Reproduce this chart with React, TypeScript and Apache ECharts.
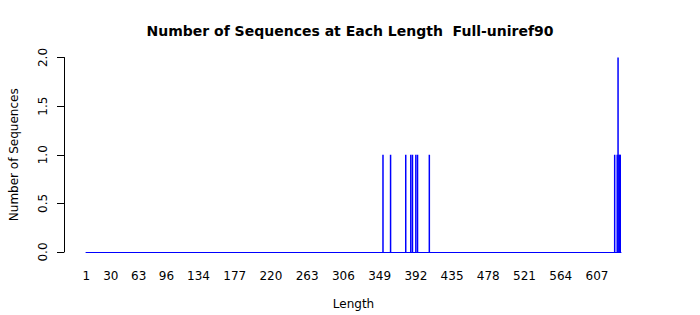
import React, { useEffect, useRef } from "react";
import * as echarts from "echarts";

// Every sequence length on the axis (1 .. 635)
const maxLength = 635;
const lengthCategories: string[] = Array.from({ length: maxLength }, (_, i) => String(i + 1));

// Lengths that have at least one sequence, and their counts (others are 0)
const barLengths = [353, 362, 380, 386, 388, 392, 394, 408, 628, 631, 632, 633, 634, 635];
const barCounts = [1, 1, 1, 1, 1, 1, 1, 1, 1, 1, 2, 1, 1, 1];

// Tick labels shown on the x axis
const xTickLabels = ["1", "30", "63", "96", "134", "177", "220", "263", "306", "349", "392", "435", "478", "521", "564", "607"];
const yTicks = [0, 0.5, 1, 1.5, 2];

const FONT = "DejaVu Sans";

export default function App() {
  const ref = useRef<HTMLDivElement>(null);
  useEffect(() => {
    if (!ref.current) return;
    const chart = echarts.init(ref.current, null, { renderer: "svg" });
    const countMap = new Map<string, number>();
    barLengths.forEach((l, i) => countMap.set(String(l), barCounts[i]));
    const seriesData = lengthCategories.map((c) => countMap.get(c) ?? 0);
    const labelSet = new Set(xTickLabels);
    chart.setOption({
      animation: false,
      backgroundColor: "#ffffff",
      title: {
        text: "Number of Sequences at Each Length  Full-uniref90",
        left: "center",
        top: 19,
        textStyle: { fontFamily: FONT, fontSize: 14, fontWeight: "bold", color: "#000" },
      },
      grid: { left: 79.5, right: 79, top: 57.5, bottom: 59, containLabel: false },
      xAxis: {
        type: "category",
        data: lengthCategories,
        boundaryGap: true,
        name: "Length",
        nameLocation: "middle",
        nameGap: 46,
        nameTextStyle: { fontFamily: FONT, fontSize: 12, color: "#000" },
        axisLine: { show: true, lineStyle: { color: "#0000ff", width: 1 } },
        axisTick: { show: false },
        axisLabel: {
          interval: (_idx: number, value: string) => labelSet.has(value),
          margin: 18,
          fontFamily: FONT,
          fontSize: 12,
          color: "#000",
          hideOverlap: false,
        },
        splitLine: { show: false },
      },
      yAxis: {
        type: "value",
        min: 0,
        max: 2,
        interval: 0.5,
        offset: 22,
        name: "Number of Sequences",
        nameLocation: "middle",
        nameGap: 44,
        nameTextStyle: { fontFamily: FONT, fontSize: 12, color: "#000" },
        axisLine: { show: true, lineStyle: { color: "#000", width: 1 } },
        axisTick: { show: true, length: 7, lineStyle: { color: "#000" } },
        axisLabel: {
          rotate: 90,
          margin: 15,
          fontFamily: FONT,
          fontSize: 12,
          color: "#000",
          formatter: (v: number) => (yTicks.includes(v) ? v.toFixed(1) : ""),
        },
        splitLine: { show: false },
      },
      series: [
        {
          type: "bar",
          data: seriesData,
          barWidth: 1.5,
          itemStyle: { color: "#0000ff" },
          emphasis: { disabled: true },
        },
      ],
    });
    return () => chart.dispose();
  }, []);
  return (
    <div
      ref={ref}
      style={{ position: "fixed", left: 0, top: 0, width: 700, height: 315 }}
    />
  );
}
